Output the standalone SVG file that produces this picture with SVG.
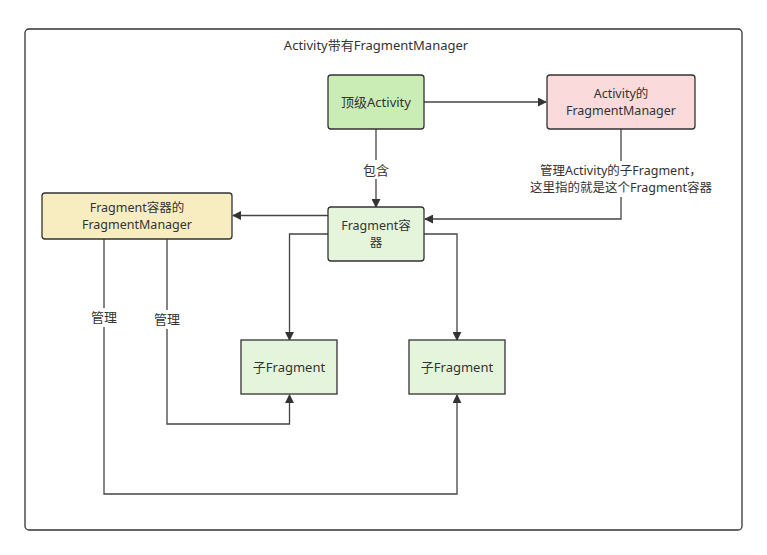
<svg xmlns="http://www.w3.org/2000/svg" width="767" height="555" viewBox="0 0 767 555">
<style>
text{font-family:"Noto Sans","Noto Sans CJK SC",sans-serif;font-size:13px;fill:#333;text-anchor:middle}
.t2{font-size:12.5px}
.n{stroke:#333;stroke-width:1.3}
.e{fill:none;stroke:#444;stroke-width:1.3;marker-end:url(#a)}
.lb{fill:#fff}
</style>
<defs>
<marker id="a" viewBox="0 0 10 10" refX="9" refY="5" markerWidth="9" markerHeight="9" markerUnits="userSpaceOnUse" orient="auto">
<path d="M0,0L10,5L0,10z" fill="#333"/>
</marker>
</defs>
<rect width="767" height="555" fill="#fff"/>
<g id="frame">
<rect x="25" y="29" width="717" height="501" rx="4" fill="none" stroke="#333" stroke-width="1.3"/>
<text x="376" y="50">Activity带有FragmentManager</text>
</g>
<g id="connectors">
<path class="e" d="M424,102H546"/>
<path class="e" d="M376,129V207"/>
<path class="e" d="M621,129V219H425"/>
<path class="e" d="M328,215.5H233"/>
<path class="e" d="M328,234H289.5V340"/>
<path class="e" d="M424,234H457V340"/>
<path class="e" d="M167,239V424H289.5V395"/>
<path class="e" d="M104,239V494H457V395"/>
<rect class="lb" x="360" y="160" width="32" height="19"/>
<text x="376" y="175">包含</text>
<rect class="lb" x="522" y="161" width="198" height="36"/>
<text class="t2" x="621" y="175">管理Activity的子Fragment，<tspan x="621" dy="17">这里指的就是这个Fragment容器</tspan></text>
<rect class="lb" x="88" y="308" width="32" height="19"/>
<text x="104" y="322">管理</text>
<rect class="lb" x="151" y="310" width="32" height="19"/>
<text x="167" y="324">管理</text>
</g>
<g id="top-activity">
<rect class="n" x="328" y="75" width="96" height="54" rx="3" fill="#c9edb5"/>
<text x="376" y="107">顶级Activity</text>
</g>
<g id="activity-fm">
<rect class="n" x="547" y="75" width="148" height="54" rx="3" fill="#fadada"/>
<text class="t2" x="621" y="98">Activity的<tspan x="621" dy="17">FragmentManager</tspan></text>
</g>
<g id="fragment-container">
<rect class="n" x="328" y="207" width="96" height="54" rx="3" fill="#e4f5dc"/>
<text class="t2" x="376" y="230">Fragment容<tspan x="376" dy="17">器</tspan></text>
</g>
<g id="container-fm">
<rect class="n" x="42" y="193" width="190" height="46" rx="3" fill="#f7edc0"/>
<text class="t2" x="137" y="212">Fragment容器的<tspan x="137" dy="17">FragmentManager</tspan></text>
</g>
<g id="child1">
<rect class="n" x="241" y="340" width="96" height="54" fill="#e4f5dc"/>
<text x="289" y="372">子Fragment</text>
</g>
<g id="child2">
<rect class="n" x="409" y="340" width="96" height="54" fill="#e4f5dc"/>
<text x="457" y="372">子Fragment</text>
</g>
</svg>
